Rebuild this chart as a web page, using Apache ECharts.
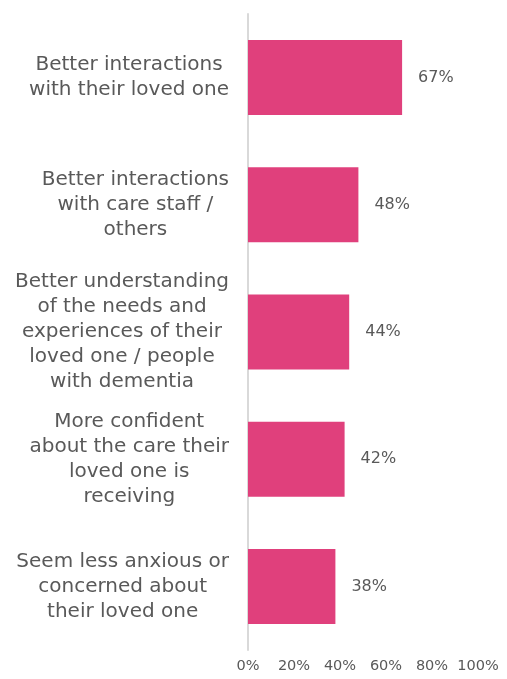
<!DOCTYPE html>
<html>
<head>
<meta charset="utf-8">
<style>
  html, body { margin: 0; padding: 0; background: #ffffff; }
  #chart { width: 507px; height: 679px; }
</style>
<script src="https://cdn.jsdelivr.net/npm/echarts@6/dist/echarts.min.js"></script>
</head>
<body>
<div id="chart"></div>
<script>
// Survey outcomes, listed top to bottom
const categories = [
  ['Better interactions', 'with their loved one'],
  ['Better interactions', 'with care staff /', 'others'],
  ['Better understanding', 'of the needs and', 'experiences of their', 'loved one / people', 'with dementia'],
  ['More confident', 'about the care their', 'loved one is', 'receiving'],
  ['Seem less anxious or', 'concerned about', 'their loved one']
];
const shares = [67, 48, 44, 42, 38];
const tickLabels = ['0%', '20%', '40%', '60%', '80%', '100%'];

const textColor = '#595959';
const fontFamily = '"DejaVu Sans", Verdana, sans-serif';

// Category axis runs bottom-up, so reverse to keep the first item on top
const catKeys = categories.map((_, i) => String(i)).reverse();
const values = shares.slice().reverse();

const chart = echarts.init(document.getElementById('chart'), null, { renderer: 'canvas' });
chart.setOption({
  animation: false,
  grid: { left: 248, right: 29, top: 14, bottom: 29, containLabel: false },
  xAxis: {
    type: 'value',
    min: 0,
    max: 100,
    interval: 20,
    axisLine: { show: false },
    axisTick: { show: false },
    splitLine: { show: false },
    axisLabel: {
      color: textColor,
      fontFamily: fontFamily,
      fontSize: 14.5,
      margin: 9,
      formatter: v => tickLabels[Math.round(v / 20)]
    }
  },
  yAxis: {
    type: 'category',
    data: catKeys,
    axisLine: { show: true, lineStyle: { color: '#d9d9d9', width: 2 } },
    axisTick: { show: false },
    splitLine: { show: false },
    axisLabel: {
      align: 'right',
      margin: 19,
      color: textColor,
      fontFamily: fontFamily,
      fontSize: 20,
      lineHeight: 25,
      formatter: k => categories[Number(k)].map(l => '{c|' + l + '}').join('\n'),
      rich: {
        c: {
          align: 'center',
          color: textColor,
          fontFamily: fontFamily,
          fontSize: 20,
          lineHeight: 25
        }
      }
    }
  },
  series: [{
    type: 'bar',
    data: values,
    barCategoryGap: '41%',
    itemStyle: { color: '#E0407C' },
    label: {
      show: true,
      position: 'right',
      distance: 16,
      color: textColor,
      fontFamily: fontFamily,
      fontSize: 16,
      formatter: p => p.value + '%'
    }
  }]
});
</script>
</body>
</html>
